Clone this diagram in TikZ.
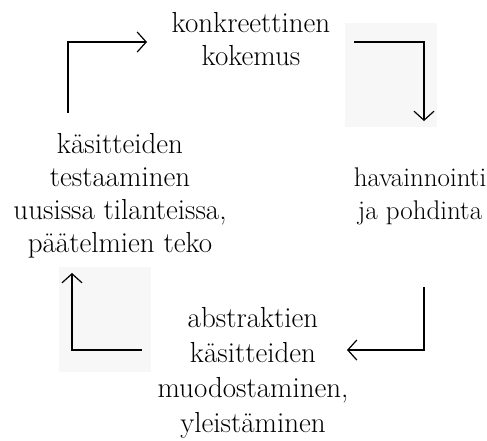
\documentclass[tikz,border=0pt]{standalone}
\usetikzlibrary{arrows.meta}
\begin{document}
\begin{tikzpicture}[x=1pt,y=-1pt,
  lbl/.style={align=center,anchor=base,inner sep=0pt,font=\fontsize{29}{33}\selectfont},
  lblb/.style={lbl,font=\fontsize{29}{35}\selectfont},
  lblr/.style={lbl,font=\fontsize{27}{33}\selectfont},
  arr/.style={line width=1.2pt,-{Straight Barb[length=9pt,width=20pt,line width=1.2pt]}},
  shade/.style={fill=black!3,draw=none}]
\useasboundingbox (0,0) rectangle (487,440);
\fill[shade] (345,23) rectangle (437,127);
\fill[shade] (59,267) rectangle (151,372);
\node[lbl] (top) at (251,65) {konkreettinen\\kokemus};
\node[lblr] (right) at (420,219) {havainnointi\\ja pohdinta};
\node[lblb] (bottom) at (253,432) {abstraktien\\käsitteiden\\muodostaminen,\\yleistäminen};
\node[lbl] (left) at (120,252) {käsitteiden\\testaaminen\\uusissa tilanteissa,\\päätelmien teko};
\coordinate (a1s) at (68,113);
\coordinate (a1e) at (147,42);
\coordinate (a2s) at (354,42);
\coordinate (a2e) at (424,121);
\coordinate (a3s) at (424,287);
\coordinate (a3e) at (347,350);
\coordinate (a4s) at (142,350);
\coordinate (a4e) at (72,273);
\draw[arr] (a1s) |- (a1e);
\draw[arr] (a2s) -| (a2e);
\draw[arr] (a3s) |- (a3e);
\draw[arr] (a4s) -| (a4e);
\end{tikzpicture}
\end{document}
